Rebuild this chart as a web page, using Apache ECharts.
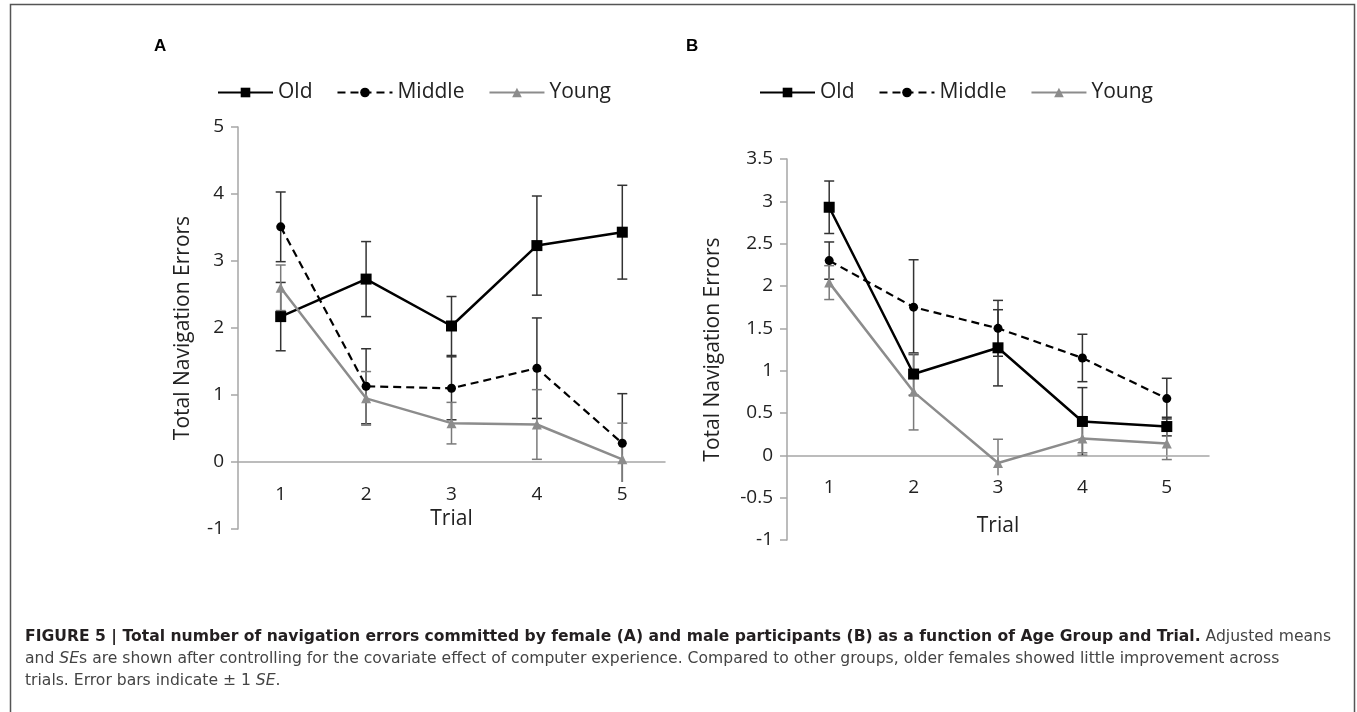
<!DOCTYPE html>
<html>
<head>
<meta charset="utf-8">
<script src="https://cdn.jsdelivr.net/npm/echarts@6/dist/echarts.min.js"></script>
<style>
html,body{margin:0;padding:0;background:#fff;}
#c{width:1357px;height:712px;}
</style>
</head>
<body>
<div id="c"></div>
<script>
// ---- data ----
const trials = ['1', '2', '3', '4', '5'];
const seriesNames = ['Old', 'Middle', 'Young'];

// Panel A (female)
const aOld = [2.17, 2.73, 2.03, 3.23, 3.43];
const aOldSE = [0.51, 0.56, 0.44, 0.74, 0.70];
const aMiddle = [3.51, 1.13, 1.10, 1.40, 0.28];
const aMiddleSE = [0.52, 0.56, 0.47, 0.75, 0.74];
const aYoung = [2.60, 0.95, 0.58, 0.56, 0.04];
const aYoungSE = [0.34, 0.40, 0.31, 0.52, 0.54];

// Panel B (male)
const bOld = [2.93, 0.96, 1.27, 0.40, 0.34];
const bOldSE = [0.31, 0.25, 0.45, 0.40, 0.11];
const bMiddle = [2.30, 1.75, 1.50, 1.15, 0.67];
const bMiddleSE = [0.22, 0.56, 0.33, 0.28, 0.24];
const bYoung = [2.04, 0.75, -0.09, 0.20, 0.14];
const bYoungSE = [0.20, 0.45, 0.28, 0.17, 0.19];

const yTicksA = {min: -1, max: 5, interval: 1};
const yTicksB = {min: -1, max: 3.5, interval: 0.5};

const captionLine1Bold = 'FIGURE 5 | Total number of navigation errors committed by female (A) and male participants (B) as a function of Age Group and Trial.';
const captionLine1Rest = ' Adjusted means';
const captionLine2 = ['and ', 'SE', 's are shown after controlling for the covariate effect of computer experience. Compared to other groups, older females showed little improvement across'];
const captionLine3 = ['trials. Error bars indicate \u00b1 1 ', 'SE', '.'];

// ---- styles ----
const FONT = 'Open Sans';
const CAP_FONT = 'DejaVu Sans';
const AXIS_GRAY = '#a6a6a6';
const styles = {
  Old: {color: '#000', lineType: 'solid', width: 2.5, symbol: 'rect', size: 11, err: '#333'},
  Middle: {color: '#000', lineType: [8, 5], width: 2.2, symbol: 'circle', size: 9, err: '#333'},
  Young: {color: '#8c8c8c', lineType: 'solid', width: 2.5, symbol: 'triangle', size: 10, err: '#7a7a7a'}
};

// fit caption width
const mctx = document.createElement('canvas').getContext('2d');
mctx.font = 'bold 100px "' + CAP_FONT + '"';
let w1 = mctx.measureText(captionLine1Bold).width;
mctx.font = '100px "' + CAP_FONT + '"';
w1 += mctx.measureText(captionLine1Rest).width;
const capSize = Math.round(100 * 1308 / w1 * 10) / 10;

function errData(vals, se) {
  return vals.map((v, i) => [i, v - se[i], v + se[i]]);
}

function errSeries(name, axisIdx, vals, se) {
  const st = styles[name];
  return {
    type: 'custom',
    name: name + ' SE',
    xAxisIndex: axisIdx, yAxisIndex: axisIdx,
    data: errData(vals, se),
    z: 1,
    silent: true,
    renderItem: function (params, api) {
      const lo = api.coord([api.value(0), api.value(1)]);
      const hi = api.coord([api.value(0), api.value(2)]);
      const hw = 5;
      const s = {stroke: st.err, lineWidth: 1.5};
      return {
        type: 'group',
        children: [
          {type: 'line', shape: {x1: lo[0], y1: lo[1], x2: hi[0], y2: hi[1]}, style: s},
          {type: 'line', shape: {x1: lo[0] - hw, y1: lo[1], x2: lo[0] + hw, y2: lo[1]}, style: s},
          {type: 'line', shape: {x1: hi[0] - hw, y1: hi[1], x2: hi[0] + hw, y2: hi[1]}, style: s}
        ]
      };
    }
  };
}

function lineSeries(name, axisIdx, vals) {
  const st = styles[name];
  return {
    type: 'line',
    name: name,
    xAxisIndex: axisIdx, yAxisIndex: axisIdx,
    data: vals,
    z: 3,
    symbol: st.symbol,
    symbolSize: st.size,
    showAllSymbol: true,
    lineStyle: {color: st.color, width: st.width, type: st.lineType},
    itemStyle: {color: st.color},
    emphasis: {disabled: true},
    animation: false
  };
}

// x axis placed at value 0 by shifting it up from the grid bottom
function xAxis(gridIdx, t, plotH, nameGap) {
  const shift = plotH * (0 - t.min) / (t.max - t.min);
  return {
    type: 'category',
    gridIndex: gridIdx,
    data: trials,
    boundaryGap: true,
    position: 'bottom',
    offset: -shift,
    z: 2,
    name: 'Trial',
    nameLocation: 'middle',
    nameGap: nameGap,
    nameTextStyle: {fontFamily: FONT, fontSize: 21, color: '#222'},
    axisLine: {onZero: false, lineStyle: {color: AXIS_GRAY, width: 1.5}},
    axisTick: {show: false},
    axisLabel: {fontFamily: FONT, fontSize: 19, color: '#222', margin: 20,
      backgroundColor: '#fff', padding: [3, 3, 0, 3]},
    splitLine: {show: false}
  };
}

function yAxis(gridIdx, t, nameGap) {
  return {
    type: 'value',
    gridIndex: gridIdx,
    min: t.min, max: t.max, interval: t.interval,
    name: 'Total Navigation Errors',
    nameLocation: 'middle',
    nameGap: nameGap,
    nameTextStyle: {fontFamily: FONT, fontSize: 21, color: '#222'},
    axisLine: {show: true, onZero: false, lineStyle: {color: AXIS_GRAY, width: 1.5}},
    axisTick: {show: true, length: 7, lineStyle: {color: AXIS_GRAY, width: 1.5}},
    axisLabel: {fontFamily: FONT, fontSize: 19, color: '#222', margin: 14,
      formatter: v => String(Math.round(v * 10) / 10)},
    splitLine: {show: false}
  };
}

function legend(left) {
  return {
    left: left, top: 77,
    itemWidth: 55, itemHeight: 12, itemGap: 24,
    data: seriesNames,
    textStyle: {fontFamily: FONT, fontSize: 21, color: '#222'},
    selectedMode: false
  };
}

const chart = echarts.init(document.getElementById('c'), null, {renderer: 'canvas'});

const captionRich = {
  b: {fontFamily: CAP_FONT, fontWeight: 'bold', fontSize: capSize, fill: '#231f20'},
  n: {fontFamily: CAP_FONT, fontSize: capSize, fill: '#444'},
  i: {fontFamily: CAP_FONT, fontStyle: 'italic', fontSize: capSize, fill: '#444'}
};

const gridA = {left: 238, top: 127, width: 427, height: 402};
const gridB = {left: 787, top: 159, width: 422, height: 381};

chart.setOption({
  animation: false,
  backgroundColor: '#fff',
  grid: [gridA, gridB],
  xAxis: [xAxis(0, yTicksA, gridA.height, 46), xAxis(1, yTicksB, gridB.height, 60)],
  yAxis: [yAxis(0, yTicksA, 44), yAxis(1, yTicksB, 63)],
  legend: [legend(212), legend(754)],
  series: [
    errSeries('Old', 0, aOld, aOldSE),
    errSeries('Middle', 0, aMiddle, aMiddleSE),
    errSeries('Young', 0, aYoung, aYoungSE),
    lineSeries('Old', 0, aOld),
    lineSeries('Middle', 0, aMiddle),
    lineSeries('Young', 0, aYoung),
    errSeries('Old', 1, bOld, bOldSE),
    errSeries('Middle', 1, bMiddle, bMiddleSE),
    errSeries('Young', 1, bYoung, bYoungSE),
    lineSeries('Old', 1, bOld),
    lineSeries('Middle', 1, bMiddle),
    lineSeries('Young', 1, bYoung)
  ],
  graphic: [
    {type: 'rect', left: 8, top: 2, silent: true,
      shape: {width: 1344, height: 720},
      style: {fill: 'none', stroke: '#555', lineWidth: 1.5}},
    {type: 'text', left: 154, top: 38, style: {text: 'A', font: 'bold 17px "Liberation Sans"', fill: '#000'}},
    {type: 'text', left: 686, top: 38, style: {text: 'B', font: 'bold 17px "Liberation Sans"', fill: '#000'}},
    {type: 'text', left: 25, top: 629, style: {
      text: '{b|' + captionLine1Bold + '}{n|' + captionLine1Rest + '}',
      rich: captionRich}},
    {type: 'text', left: 25, top: 651, style: {
      text: '{n|' + captionLine2[0] + '}{i|' + captionLine2[1] + '}{n|' + captionLine2[2] + '}',
      rich: captionRich}},
    {type: 'text', left: 25, top: 673, style: {
      text: '{n|' + captionLine3[0] + '}{i|' + captionLine3[1] + '}{n|' + captionLine3[2] + '}',
      rich: captionRich}}
  ]
});
</script>
</body>
</html>
